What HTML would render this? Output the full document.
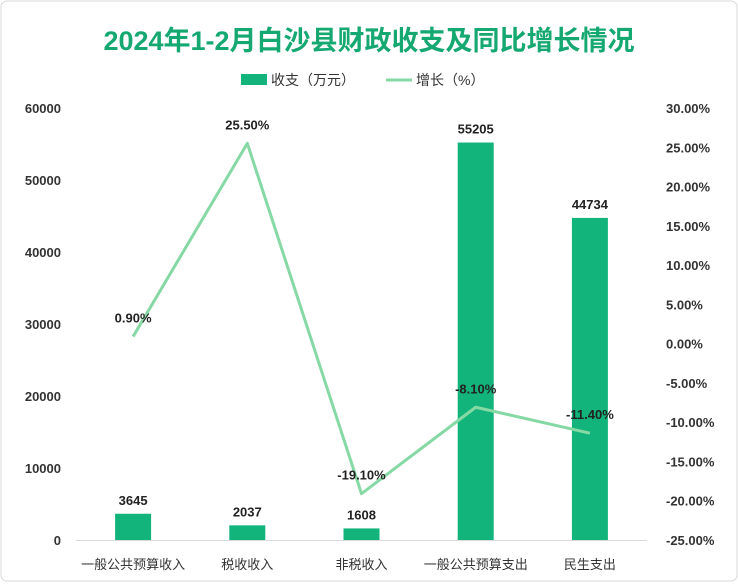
<!DOCTYPE html>
<html><head><meta charset="utf-8"><style>
body{margin:0;background:#fff;}
#wrap{position:relative;width:738px;height:582px;font-family:"Liberation Sans","Noto Sans CJK SC",sans-serif;}
</style></head><body>
<div id="wrap">
<svg id="chart" width="738" height="582">
<rect x="1" y="1" width="736" height="580" rx="6" fill="#fff" stroke="#d9d9d9"/>
<text x="369" y="50" text-anchor="middle" font-size="27" font-weight="bold" fill="#15a870">2024年1-2月白沙县财政收支及同比增长情况</text>
<g>
<rect x="241" y="74" width="26" height="11" fill="#12b47c"/>
<text x="271" y="85" font-size="14" fill="#333">收支（万元）</text>
<line x1="386" y1="80" x2="412" y2="80" stroke="#86d9a4" stroke-width="3"/>
<text x="416" y="85" font-size="14" fill="#333">增长（%）</text>
</g>
<g id="plot"></g>
</svg>
</div>
<script>
const categories=["一般公共预算收入","税收收入","非税收入","一般公共预算支出","民生支出"];
const amounts=[3645,2037,1608,55205,44734];
const growth=[0.9,25.5,-19.1,-8.1,-11.4];
const leftTicks=[0,10000,20000,30000,40000,50000,60000];
const rightTicks=[30,25,20,15,10,5,0,-5,-10,-15,-20,-25];
const NS="http://www.w3.org/2000/svg";
const g=document.getElementById('plot');
const x0=76,x1=647,yTop=108,yBot=540;
const step=(x1-x0)/categories.length;
const xc=i=>x0+step*(i+0.5);
const yL=v=>yBot-(v/60000)*(yBot-yTop);
const yR=v=>yTop+(30-v)/55*(yBot-yTop);
function mk(t,a){const e=document.createElementNS(NS,t);for(const k in a)e.setAttribute(k,a[k]);g.appendChild(e);return e;}
leftTicks.forEach(v=>{const e=mk('text',{x:61,y:yL(v)+5,'text-anchor':'end','font-size':13,'font-weight':'bold',fill:'#333'});e.textContent=v;

});
rightTicks.forEach(v=>{const e=mk('text',{x:666,y:yR(v)+5,'font-size':13,'font-weight':'bold',fill:'#333'});e.textContent=v.toFixed(2)+'%';

});
const ax=mk('line',{x1:x0,x2:x1,y1:yBot+0.5,y2:yBot+0.5,stroke:'#d9d9d9'});


categories.forEach((c,i)=>{
const b=mk('rect',{x:xc(i)-18,y:yL(amounts[i]),width:36,height:yBot-yL(amounts[i]),fill:'#12b47c'});


const t=mk('text',{x:xc(i),y:yL(amounts[i])-9,'text-anchor':'middle','font-size':13,'font-weight':'bold',fill:'#222'});t.textContent=amounts[i];


const l=mk('text',{x:xc(i),y:569,'text-anchor':'middle','font-size':13,fill:'#333'});l.textContent=c;


});
const pl=mk('polyline',{points:growth.map((v,i)=>xc(i)+','+yR(v)).join(' '),fill:'none',stroke:'#86d9a4','stroke-width':3,'stroke-linejoin':'round'});


growth.forEach((v,i)=>{const t=mk('text',{x:xc(i),y:yR(v)-14,'text-anchor':'middle','font-size':13,'font-weight':'bold',fill:'#222'});t.textContent=v.toFixed(2)+'%';

});
</script>
</body></html>
